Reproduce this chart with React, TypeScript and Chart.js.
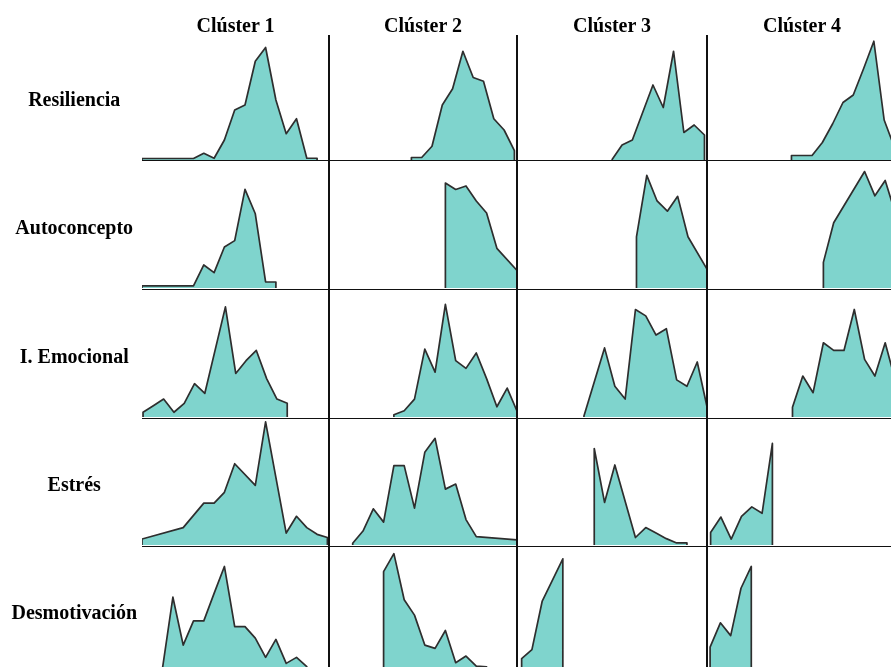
import React, { useEffect, useRef } from "react";
import { Chart, registerables } from "chart.js";

Chart.register(...registerables);

// ---------- data ----------
const clusters = ["Clúster 1", "Clúster 2", "Clúster 3", "Clúster 4"];
const variables = ["Resiliencia", "Autoconcepto", "I. Emocional", "Estrés", "Desmotivación"];

// First score bin of each cluster's distribution, and the frequencies
// (as % of the panel height) for consecutive bins; null = no marker (straight segment).
const resilienciaStart = [0, 8, 9.2, 8.2];
const resilienciaValues = [
  [1.2, 1.2, 1.2, 1.2, 1.2, 1.2, 5.4, 1.4, 16, 40, 44, 79, 90, 48, 21, 33, 1.4, 1.4],
  [2, 2, 11, 44, 57, 87, 66, 63, 33, 24, 7.5],
  [0, 12, 16, null, 60, 42, 87, 22, 28, 20],
  [3.6, 3.6, 3.6, 14, 29, 46, 52, 73, 95, 32, 10],
];

const autoconceptoStart = [0, 11.3, 11.6, 11.3];
const autoconceptoValues = [
  [1.6, 1.6, 1.6, 1.6, 1.6, 1.6, 18, 12, 32, 37, 77, 58, 4.7, 4.7],
  [82, 77, 79.7, 68, 58.6, 31, null, 13.3],
  [40, 88, 68, 60, 71.6, 40, null, 12.6],
  [20, 51, null, null, 91, 72, 84, 58],
];

const emocionalStart = [0.1, 6.3, 6.5, 8.3];
const emocionalValues = [
  [3.7, 8.8, 14, 3.7, 10.7, 26, 18.5, null, 86, 34, 44, 52, 30, 14, 10.7],
  [1.8, 4.9, 14, 53, 35, 88, 44, 38, 50, 30, 8, 22.6, 3.7],
  [0.8, null, 54, 24, 14, 84, 79, 64, 69, 29, 24, 43, 6],
  [7.6, 32, 19, 58, 52, 52, 84, 45, 32, 58, 28],
];

const estresStart = [0, 2.3, 7.5, 0.35];
const estresValues = [
  [4.7, null, null, null, 13.7, null, 33, 33, 41.5, 64, null, 47, 97, null, 9.4, 22.6, 13.7, 8.4, 5.9],
  [1.4, 11, 28.5, 18, 62.5, 62.5, 29, 73, 84, 44, 48, 20, 6.6, null, null, null, 4],
  [76, 33.5, 63, null, 5.9, 13.7, 9.4, 5, 1.6, 1.6],
  [9.8, 22, 4.7, 22.6, 30, 25, 80],
];

const desmotivacionStart = [2, 5.3, 0.45, 0.3];
const desmotivacionValues = [
  [5, 60, 22.6, 41.5, 41.5, 63, 84, 37, 37, 28, 13, 27, 8.3, 13, 5.7],
  [80, 94, 58, 46, 22.6, 20, 34, 8.8, 14, 6.2, 5.5],
  [12, 19, 57, null, 90],
  [21, 40, 30, 67, 84],
];

const rowStarts = [resilienciaStart, autoconceptoStart, emocionalStart, estresStart, desmotivacionStart];
const rowValues = [resilienciaValues, autoconceptoValues, emocionalValues, estresValues, desmotivacionValues];

// ---------- layout / style ----------
const FILL = "#7fd4cd";
const STROKE = "#2e2e2e";
const BIN_PX = 10.3;
const COL_LEFT = [142, 329, 517, 707];
const COL_WIDTH = [187, 188, 190, 190];
const ROW_TOP = [35, 160, 289, 418, 546];
const ROW_BASE = [160, 288, 417, 545, 674];
const V_LINES = [329, 517, 707];
const H_LINES = [160.7, 289.3, 418.3, 546.3];
const LABEL_BASELINE = [106, 233.3, 362.3, 491, 619];
const FONT = '"Liberation Serif", "Times New Roman", serif';

function buildPoints(start: number, values: (number | null)[]) {
  const pts: { x: number; y: number }[] = [];
  values.forEach((v, i) => {
    if (v !== null && v !== undefined) pts.push({ x: start + i, y: v });
  });
  if (!pts.length) return pts;
  const first = pts[0].x;
  const last = pts[pts.length - 1].x;
  return [{ x: first, y: 0 }, ...pts, { x: last, y: 0 }];
}

function Panel({ row, col }: { row: number; col: number }) {
  const ref = useRef<HTMLCanvasElement | null>(null);
  const width = COL_WIDTH[col];
  const height = ROW_BASE[row] - ROW_TOP[row];
  useEffect(() => {
    if (!ref.current) return;
    const chart = new Chart(ref.current, {
      type: "line",
      data: {
        datasets: [
          {
            data: buildPoints(rowStarts[row][col], rowValues[row][col]),
            fill: "origin",
            backgroundColor: FILL,
            borderColor: STROKE,
            borderWidth: 1.7,
            borderJoinStyle: "round",
            pointRadius: 0,
            tension: 0,
          },
        ],
      },
      options: {
        animation: false,
        responsive: false,
        maintainAspectRatio: false,
        events: [],
        layout: { padding: 0 },
        plugins: { legend: { display: false }, tooltip: { enabled: false } },
        scales: {
          x: { type: "linear", display: false, min: 0, max: width / BIN_PX },
          y: { type: "linear", display: false, min: 0, max: 100 },
        },
      },
    });
    return () => chart.destroy();
  }, [row, col, width]);
  return (
    <canvas
      ref={ref}
      width={width}
      height={height}
      style={{
        position: "absolute",
        left: COL_LEFT[col],
        top: ROW_TOP[row],
        width,
        height,
      }}
    />
  );
}

export default function App() {
  return (
    <div
      style={{
        position: "absolute",
        left: 0,
        top: 0,
        width: 891,
        height: 667,
        overflow: "hidden",
        background: "#ffffff",
        fontFamily: FONT,
      }}
    >
      {variables.map((_, r) =>
        clusters.map((__, c) => <Panel key={`${r}-${c}`} row={r} col={c} />)
      )}
      {V_LINES.map((x, i) => (
        <div
          key={`v${i}`}
          style={{ position: "absolute", left: x - 0.75, top: 35, width: 1.5, height: 640, background: "#111" }}
        />
      ))}
      {H_LINES.map((y, i) => (
        <div
          key={`h${i}`}
          style={{ position: "absolute", left: 142, top: y - 0.75, width: 760, height: 1.5, background: "#111" }}
        />
      ))}
      {clusters.map((name, c) => (
        <div
          key={`c${c}`}
          style={{
            position: "absolute",
            left: COL_LEFT[c],
            width: COL_WIDTH[c],
            top: 31.7 - 16.75,
            lineHeight: "20px",
            fontSize: 20,
            fontWeight: "bold",
            textAlign: "center",
            whiteSpace: "nowrap",
            color: "#000",
          }}
        >
          {name}
        </div>
      ))}
      {variables.map((name, r) => (
        <div
          key={`r${r}`}
          style={{
            position: "absolute",
            left: 0,
            width: 148.5,
            top: LABEL_BASELINE[r] - 16.75,
            lineHeight: "20px",
            fontSize: 20,
            fontWeight: "bold",
            textAlign: "center",
            whiteSpace: "nowrap",
            color: "#000",
          }}
        >
          {name}
        </div>
      ))}
    </div>
  );
}
